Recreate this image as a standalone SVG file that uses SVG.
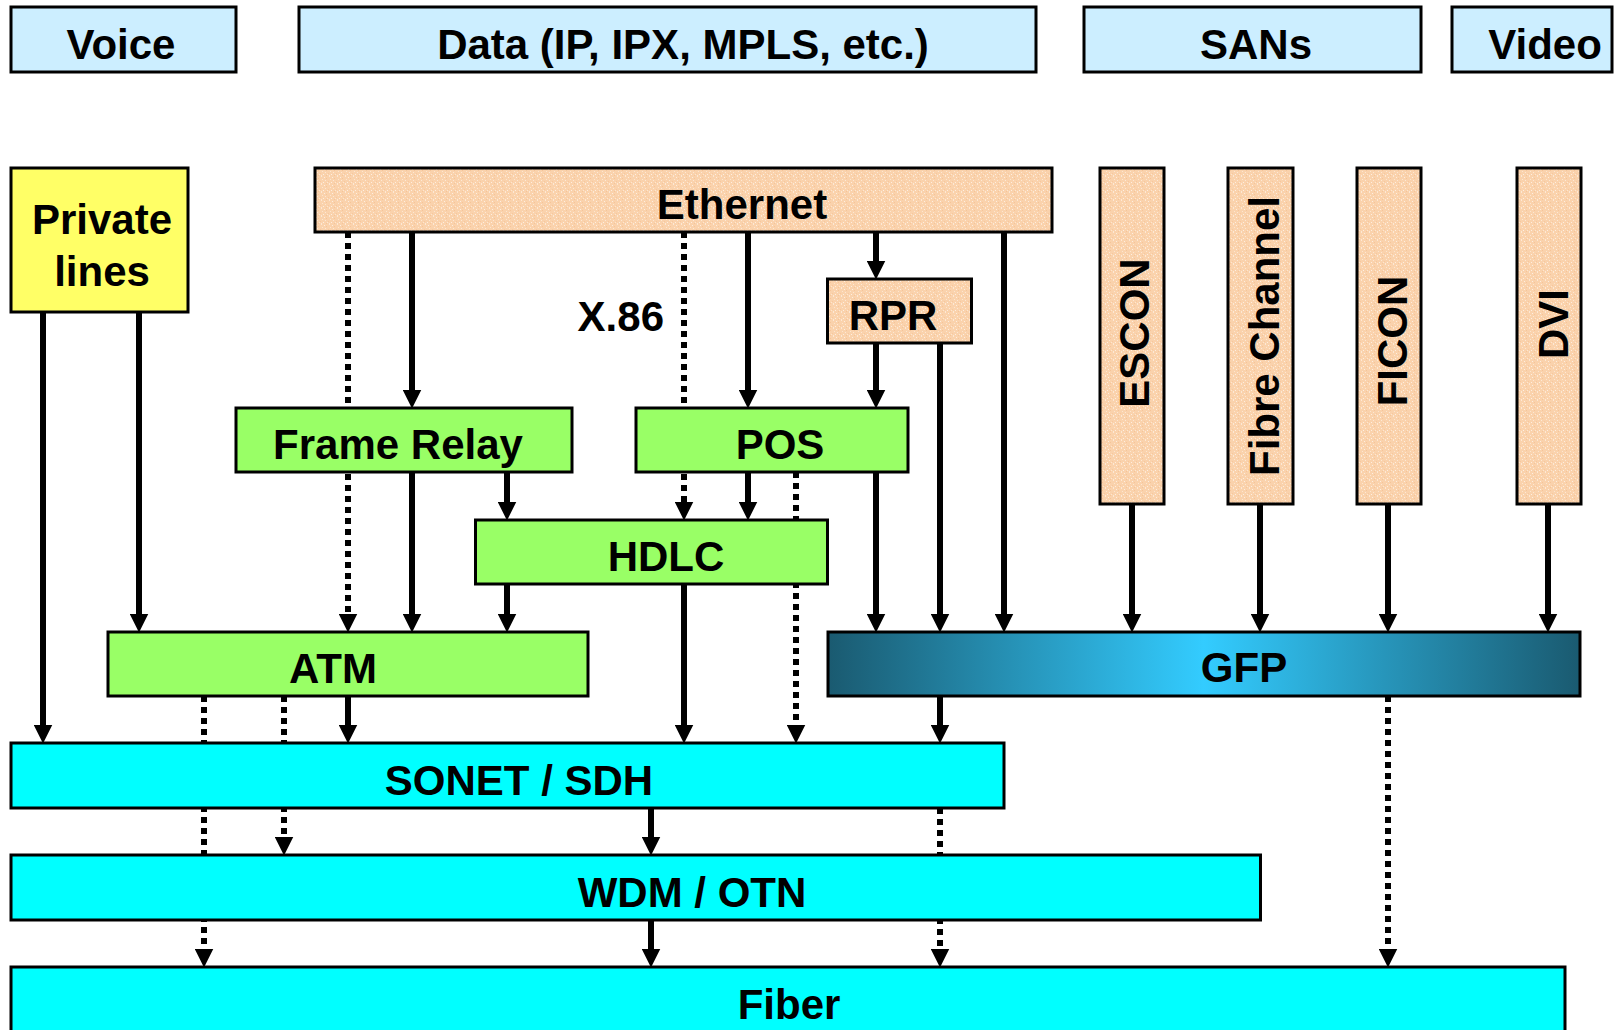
<svg xmlns="http://www.w3.org/2000/svg" width="1614" height="1030" viewBox="0 0 1614 1030">
  <style>
    .box { stroke: #000; stroke-width: 3; }
    .hdr { fill: #CCEEFF; }
    .yel { fill: #FFFF66; }
    .grn { fill: #99FF66; }
    .cyn { fill: #00FFFF; }
    .org { fill: url(#speckle); }
    .gfp { fill: url(#gfpGrad); }
    text { font-family: "Liberation Sans", Arial, Helvetica, sans-serif; font-weight: bold; font-size: 42px; fill: #000; }
    .mid { text-anchor: middle; }
    .solid { stroke: #000; stroke-width: 6; fill: none; marker-end: url(#arrow); }
    .dot { stroke: #000; stroke-width: 6; fill: none; stroke-dasharray: 6 5; marker-end: url(#arrow); }
  </style>
  <defs>
    <marker id="arrow" markerUnits="userSpaceOnUse" markerWidth="19" markerHeight="19" viewBox="0 0 18 18" refX="8" refY="9" orient="auto">
      <path d="M0,0 L18,9 L0,18 z" fill="#000"/>
    </marker>
    <pattern id="speckle" patternUnits="userSpaceOnUse" width="8" height="8">
      <rect width="8" height="8" fill="#FAD2AC"/>
      <rect x="1" y="0" width="1" height="1" fill="#FDE8D4"/>
      <rect x="4" y="1" width="1" height="1" fill="#FEEEDF"/>
      <rect x="6" y="2" width="1" height="1" fill="#F6C498"/>
      <rect x="2" y="3" width="1" height="1" fill="#FDE6CF"/>
      <rect x="0" y="5" width="1" height="1" fill="#F7C79D"/>
      <rect x="5" y="4" width="1" height="1" fill="#FDE8D4"/>
      <rect x="3" y="6" width="1" height="1" fill="#FEEEDF"/>
      <rect x="7" y="6" width="1" height="1" fill="#FDE6CF"/>
      <rect x="6" y="7" width="1" height="1" fill="#F6C498"/>
      <rect x="1" y="7" width="1" height="1" fill="#FDE8D4"/>
    </pattern>
    <linearGradient id="gfpGrad" x1="0" y1="0" x2="1" y2="0">
      <stop offset="0" stop-color="#1A5A70"/>
      <stop offset="0.5" stop-color="#33CCFF"/>
      <stop offset="1" stop-color="#1A5A70"/>
    </linearGradient>
  </defs>

  <!-- connectors, drawn first so the boxes sit on top of lines that pass through them -->
  <g id="connectors">
    <!-- Private lines -->
    <line class="solid" x1="43" y1="312" x2="43" y2="733"/>
    <line class="solid" x1="139" y1="312" x2="139" y2="622"/>
    <!-- Ethernet down to Frame Relay / ATM -->
    <line class="dot" x1="348" y1="232" x2="348" y2="622"/>
    <line class="solid" x1="412" y1="232" x2="412" y2="398"/>
    <line class="solid" x1="412" y1="472" x2="412" y2="622"/>
    <!-- Frame Relay / HDLC / ATM -->
    <line class="solid" x1="507" y1="472" x2="507" y2="510"/>
    <line class="solid" x1="507" y1="584" x2="507" y2="622"/>
    <!-- X.86 and POS -->
    <line class="dot" x1="684" y1="232" x2="684" y2="510"/>
    <line class="solid" x1="748" y1="232" x2="748" y2="398"/>
    <line class="solid" x1="748" y1="472" x2="748" y2="510"/>
    <line class="dot" x1="796" y1="472" x2="796" y2="733"/>
    <line class="solid" x1="684" y1="584" x2="684" y2="733"/>
    <!-- RPR -->
    <line class="solid" x1="876" y1="232" x2="876" y2="269"/>
    <line class="solid" x1="876" y1="343" x2="876" y2="398"/>
    <line class="solid" x1="876" y1="472" x2="876" y2="622"/>
    <line class="solid" x1="940" y1="343" x2="940" y2="622"/>
    <line class="solid" x1="1004" y1="232" x2="1004" y2="622"/>
    <!-- SAN / video into GFP -->
    <line class="solid" x1="1132" y1="504" x2="1132" y2="622"/>
    <line class="solid" x1="1260" y1="504" x2="1260" y2="622"/>
    <line class="solid" x1="1388" y1="504" x2="1388" y2="622"/>
    <line class="solid" x1="1548" y1="504" x2="1548" y2="622"/>
    <!-- GFP out -->
    <line class="solid" x1="940" y1="696" x2="940" y2="733"/>
    <line class="dot" x1="1388" y1="696" x2="1388" y2="957"/>
    <!-- ATM out -->
    <line class="dot" x1="204" y1="696" x2="204" y2="957"/>
    <line class="dot" x1="284" y1="696" x2="284" y2="845"/>
    <line class="solid" x1="348" y1="696" x2="348" y2="733"/>
    <!-- SONET / WDM / Fiber -->
    <line class="solid" x1="651" y1="808" x2="651" y2="845"/>
    <line class="solid" x1="651" y1="920" x2="651" y2="957"/>
    <line class="dot" x1="940" y1="808" x2="940" y2="957"/>
  </g>

  <!-- service headers -->
  <g id="voice"><rect class="box hdr" x="11" y="7" width="225" height="65"/><text class="mid" x="121" y="59">Voice</text></g>
  <g id="data"><rect class="box hdr" x="299" y="7" width="737" height="65"/><text class="mid" x="683" y="59">Data (IP, IPX, MPLS, etc.)</text></g>
  <g id="sans"><rect class="box hdr" x="1084" y="7" width="337" height="65"/><text class="mid" x="1256" y="59">SANs</text></g>
  <g id="video"><rect class="box hdr" x="1452" y="7" width="160" height="65"/><text class="mid" x="1545" y="59">Video</text></g>

  <!-- client protocols -->
  <g id="private-lines"><rect class="box yel" x="11" y="168" width="177" height="144"/><text class="mid" x="102" y="234">Private</text><text class="mid" x="102" y="286">lines</text></g>
  <g id="ethernet"><rect class="box org" x="315" y="168" width="737" height="64"/><text class="mid" x="742" y="219">Ethernet</text></g>
  <g id="x86-label"><text x="664" y="331" text-anchor="end">X.86</text></g>
  <g id="rpr"><rect class="box org" x="827.5" y="279" width="144" height="64"/><text class="mid" x="893" y="330">RPR</text></g>
  <g id="escon"><rect class="box org" x="1100" y="168" width="64" height="336"/><text class="mid" transform="translate(1149,333) rotate(-90)">ESCON</text></g>
  <g id="fibre-channel"><rect class="box org" x="1228" y="168" width="65" height="336"/><text class="mid" transform="translate(1279,336) rotate(-90)">Fibre Channel</text></g>
  <g id="ficon"><rect class="box org" x="1357" y="168" width="64" height="336"/><text class="mid" transform="translate(1407,341) rotate(-90)">FICON</text></g>
  <g id="dvi"><rect class="box org" x="1517" y="168" width="64" height="336"/><text class="mid" transform="translate(1568,324) rotate(-90)">DVI</text></g>

  <!-- adaptation layers -->
  <g id="frame-relay"><rect class="box grn" x="236" y="408" width="336" height="64"/><text class="mid" x="398" y="459">Frame Relay</text></g>
  <g id="pos"><rect class="box grn" x="636" y="408" width="272" height="64"/><text class="mid" x="780" y="459">POS</text></g>
  <g id="hdlc"><rect class="box grn" x="475.5" y="520" width="352" height="64"/><text class="mid" x="666" y="571">HDLC</text></g>
  <g id="atm"><rect class="box grn" x="108" y="632" width="480" height="64"/><text class="mid" x="333" y="683">ATM</text></g>
  <g id="gfp"><rect class="box gfp" x="828" y="632" width="752" height="64"/><text class="mid" x="1244" y="682">GFP</text></g>

  <!-- transport layers -->
  <g id="sonet-sdh"><rect class="box cyn" x="11" y="743" width="993" height="65"/><text class="mid" x="519" y="795">SONET / SDH</text></g>
  <g id="wdm-otn"><rect class="box cyn" x="11" y="855" width="1249.5" height="65"/><text class="mid" x="692" y="907">WDM / OTN</text></g>
  <g id="fiber"><rect class="box cyn" x="11" y="967" width="1554" height="75"/><text class="mid" x="789" y="1019">Fiber</text></g>
</svg>
